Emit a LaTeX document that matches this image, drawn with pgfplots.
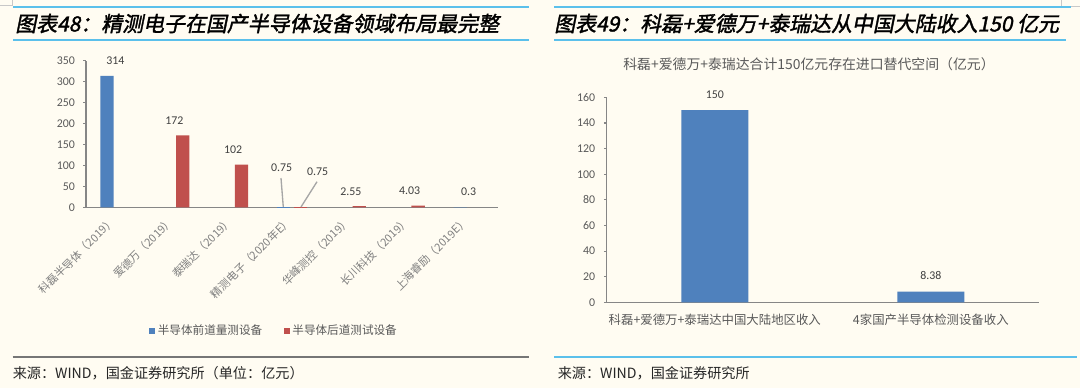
\documentclass[border=0pt]{standalone}
\usepackage{pgfplots}
\pgfplotsset{compat=1.18}
\usepackage{pgfplotstable}
\usepackage{fontspec}
\setmainfont{Carlito}
\newfontfamily\cjk{Noto Sans CJK SC}
\newfontfamily\cjktitle[FakeSlant=0.2,FakeBold=1.6]{Noto Sans CJK SC}
\definecolor{bg}{HTML}{FFFCF2}
\definecolor{barblue}{HTML}{4F81BD}
\definecolor{barred}{HTML}{C0504D}
\definecolor{axgray}{HTML}{868686}
\definecolor{txtgray}{HTML}{595959}
\definecolor{lblgray}{HTML}{7F7F7F}
\definecolor{lineblue}{HTML}{5BC0EB}
\definecolor{leader}{HTML}{A6A6A6}
\definecolor{boxgray}{HTML}{C8C8C8}
\definecolor{datatxt}{HTML}{404040}
\definecolor{srcgray}{HTML}{767676}

% front-end metrology (blue) and back-end test (red), 亿元
\pgfplotstableread{
x y
0 314
6 0.3
}\frontA
\pgfplotstableread{
x y
3 0.75
}\frontB
\pgfplotstableread{
x y
1 172
2 102
4 2.55
5 4.03
}\backA
\pgfplotstableread{
x y
3 0.75
}\backB
\pgfplotstableread{
x y
0 150
1 8.38
}\rightdata

\begin{document}
\begin{tikzpicture}
\begin{scope}[x=0.75pt,y=-0.75pt]
  \useasboundingbox (0,0) rectangle (1080,388);
  \fill[bg] (0,0) rectangle (1080,388);
  \draw[boxgray,line width=0.6pt] (12.3,0) -- (12.3,5.7) -- (0,5.7);
  \draw[boxgray,line width=0.6pt] (1061,0) -- (1061,6) -- (1080,6);
  \draw[lineblue,line width=1.2pt] (13,7) -- (529,7);
  \draw[lineblue,line width=1.2pt] (554,7) -- (1071,7);
  \draw[lineblue,line width=1.2pt] (13,40) -- (529,40);
  \draw[lineblue,line width=1.2pt] (554,40) -- (1066,40);
  \node[anchor=west,inner sep=0] at (15,23.5) {\cjktitle\fontsize{15.7}{18}\selectfont 图表48：精测电子在国产半导体设备领域布局最完整};
  \node[anchor=west,inner sep=0] at (554,23.5) {\cjktitle\fontsize{15.7}{18}\selectfont 图表49：科磊+爱德万+泰瑞达从中国大陆收入150 亿元};
  \node[text=txtgray,inner sep=0] at (809,64.3) {\cjk\fontsize{10.4}{12}\selectfont 科磊+爱德万+泰瑞达合计150亿元存在进口替代空间（亿元）};
  \draw[srcgray,line width=1.4pt] (12.5,357) -- (529,357);
  \draw[lineblue,line width=1.4pt] (554,357) -- (1077,357);
  \node[anchor=west,inner sep=0,text=black!85] at (12.5,373) {\cjk\fontsize{10.6}{12}\selectfont 来源：WIND，国金证券研究所（单位：亿元）};
  \node[anchor=west,inner sep=0,text=black!85] at (557.5,373) {\cjk\fontsize{10.6}{12}\selectfont 来源：WIND，国金证券研究所};
\end{scope}

\begin{axis}[
  at={({86*0.75pt},{-207.3*0.75pt})}, anchor=south west,
  scale only axis, width=309pt, height=109.95pt,
  xmin=-0.5, xmax=6.5, ymin=0, ymax=350,
  axis x line*=bottom, axis y line*=left,
  axis line style={axgray,line width=1pt,-},
  ytick={0,50,...,350},
  xtick={0,...,6},
  xticklabels={科磊半导体（2019）,爱德万（2019）,泰瑞达（2019）,精测电子（2020年E）,华峰测控（2019）,长川科技（2019）,上海睿励（2019E）},
  x tick label style={font=\cjk\fontsize{8.3}{10}\selectfont, text=lblgray, anchor=east, xshift=-1pt, yshift=-6pt, rotate=45, inner sep=1pt},
  y tick label style={font=\fontsize{8.9}{10}\selectfont, text=txtgray, xshift=-2.5pt},
  /pgf/number format/assume math mode=true,
  tick align=outside, major tick length=2.25pt,
  tick style={axgray,line width=0.8pt},
  major x tick style={draw=none},
  clip=false,
  legend style={at={(0.457,-0.842)}, anchor=center, draw=none, fill=none,
    font=\cjk\fontsize{8.7}{10}\selectfont, text=txtgray,
    /tikz/every even column/.append style={column sep=14pt}},
  legend columns=2,
  legend image code/.code={\fill[#1,/tikz/.cd] (0pt,-2.3pt) rectangle (4.6pt,2.3pt);},
  every node near coord/.append style={font=\fontsize{8.9}{10}\selectfont, text=datatxt, anchor=center, yshift=11.25pt},
]
\addplot[ybar, bar width=10pt, bar shift=-6.3pt, fill=barblue, draw=none, nodes near coords] table[x=x,y=y] {\frontA};
\addlegendentry{半导体前道量测设备}
\addplot[ybar, bar width=10pt, bar shift=6.3pt, fill=barred, draw=none, nodes near coords] table[x=x,y=y] {\backA};
\addlegendentry{半导体后道测试设备}
\addplot[ybar, bar width=10pt, bar shift=-6.3pt, fill=barblue, draw=none, forget plot] table[x=x,y=y] {\frontB};
\addplot[ybar, bar width=10pt, bar shift=6.3pt, fill=barred, draw=none, forget plot] table[x=x,y=y] {\backB};
\draw[leader,line width=1pt] (axis cs:2.813,69.9) -- (axis cs:2.852,0.75);
\node[font=\fontsize{8.9}{10}\selectfont, text=datatxt] at (axis cs:2.825,93.8) {0.75};
\draw[leader,line width=1pt] (axis cs:3.425,61.1) -- (axis cs:3.153,0.75);
\node[font=\fontsize{8.9}{10}\selectfont, text=datatxt] at (axis cs:3.437,84.2) {0.75};
\end{axis}

\begin{axis}[
  at={({606.8*0.75pt},{-302.4*0.75pt})}, anchor=south west,
  scale only axis, width=324pt, height=153.75pt,
  xmin=-0.5, xmax=1.5, ymin=0, ymax=160,
  axis x line*=bottom, axis y line*=left,
  axis line style={axgray,line width=1pt,-},
  ytick={0,20,...,160},
  xtick={0,1},
  xticklabels={科磊+爱德万+泰瑞达中国大陆地区收入,4家国产半导体检测设备收入},
  x tick label style={font=\cjk\fontsize{9.3}{11}\selectfont, text=txtgray, yshift=-3pt},
  y tick label style={font=\fontsize{8.9}{10}\selectfont, text=txtgray, xshift=-3pt},
  /pgf/number format/assume math mode=true,
  tick align=outside, major tick length=2.25pt,
  tick style={axgray,line width=0.8pt},
  major x tick style={draw=none},
  clip=false,
  every node near coord/.append style={font=\fontsize{8.9}{10}\selectfont, text=datatxt, anchor=center, yshift=12pt},
]
\addplot[ybar, bar width=50.25pt, fill=barblue, draw=none, nodes near coords] table[x=x,y=y] {\rightdata};
\end{axis}
\end{tikzpicture}
\end{document}
